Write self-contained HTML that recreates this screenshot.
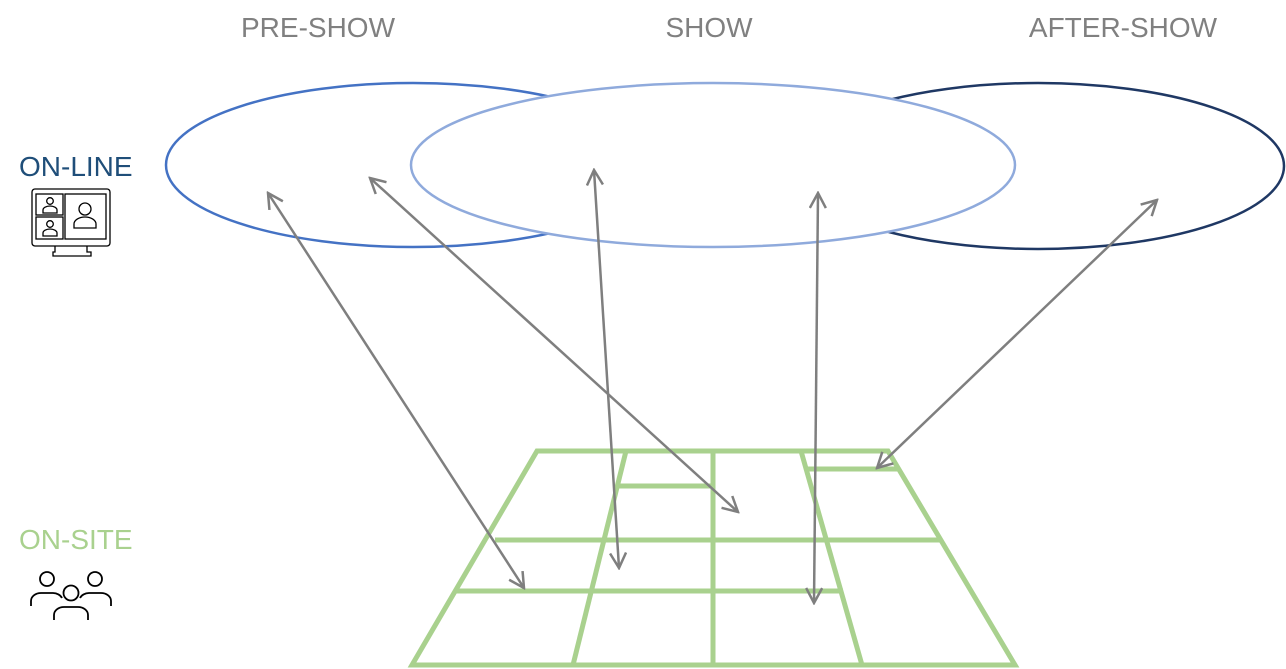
<!DOCTYPE html>
<html><head><meta charset="utf-8"><style>
html,body{margin:0;padding:0;background:#fff;}
svg{display:block;}
text{font-family:"Liberation Sans",sans-serif;}
</style></head><body>
<svg width="1286" height="669" viewBox="0 0 1286 669" xmlns="http://www.w3.org/2000/svg">
<defs>
<marker id="a" viewBox="0 0 18 18" refX="16" refY="9" markerWidth="18" markerHeight="18" markerUnits="userSpaceOnUse" orient="auto-start-reverse">
<path d="M1,1 L16,9 L1,17" fill="none" stroke="#7f7f7f" stroke-width="2.5"/>
</marker>
</defs>
<text x="318" y="37" font-size="28" fill="#808080" text-anchor="middle">PRE-SHOW</text>
<text x="709" y="37" font-size="28" fill="#808080" text-anchor="middle">SHOW</text>
<text x="1123" y="37" font-size="28" fill="#808080" text-anchor="middle">AFTER-SHOW</text>
<text x="19" y="176" font-size="28" fill="#1f4e79">ON-LINE</text>
<text x="19" y="549" font-size="28" fill="#a9d18e">ON-SITE</text>

<g fill="none" stroke="#000" stroke-width="1.3">
<rect x="32" y="189" width="78" height="57" rx="3"/>
<rect x="36" y="194" width="27" height="21"/>
<rect x="36" y="217" width="27" height="22"/>
<rect x="65" y="194" width="41" height="45"/>
<path d="M55,246 v6 h-2 v4 h38 v-4 h-4 v-6"/>
<circle cx="50" cy="201" r="3.3"/><path d="M43,213 v-3 a7,4 0 0 1 14,0 v3 z"/>
<circle cx="50" cy="224" r="3.3"/><path d="M43,236 v-3 a7,4 0 0 1 14,0 v3 z"/>
<circle cx="85" cy="209" r="6"/><path d="M74,228 v-4 a11,7 0 0 1 22,0 v4 z"/>
</g>
<g fill="none" stroke="#000" stroke-width="1.8">
<circle cx="47" cy="579" r="7"/><path d="M31,606 v-5 a10,8 0 0 1 10,-8 h12 a10,8 0 0 1 9,5"/>
<circle cx="95" cy="579" r="7"/><path d="M80,598 a10,8 0 0 1 9,-5 h12 a10,8 0 0 1 10,8 v5"/>
<circle cx="71" cy="593" r="7.5"/><path d="M54,620 v-5 a10,8 0 0 1 10,-8 h14 a10,8 0 0 1 10,8 v5"/>
</g>

<ellipse cx="413" cy="165" rx="247" ry="82" fill="none" stroke="#4472c4" stroke-width="2.5"/>
<ellipse cx="1038" cy="166" rx="246" ry="83" fill="none" stroke="#1f3864" stroke-width="2.5"/>
<ellipse cx="713" cy="165" rx="302" ry="82" fill="#fff" stroke="#8faadc" stroke-width="2.5"/>

<g fill="none" stroke="#a9d18e" stroke-width="5">
<path d="M537,451 H888 L1015,665 H412 Z"/>
<path d="M626,451 L573,665"/>
<path d="M713,451 V665"/>
<path d="M801,451 L862,665"/>
<path d="M495,540 H940"/>
<path d="M455,591 H843"/>
<path d="M619,486 H713"/>
<path d="M807,469 H899"/>
</g>

<g stroke="#7f7f7f" stroke-width="2.5" fill="none" marker-start="url(#a)" marker-end="url(#a)">
<line x1="268" y1="193" x2="524" y2="588"/>
<line x1="370" y1="178" x2="738" y2="512"/>
<line x1="594" y1="170" x2="619" y2="568"/>
<line x1="818" y1="193" x2="814" y2="603"/>
<line x1="1157" y1="200" x2="877" y2="468"/>
</g>
</svg>
</body></html>
